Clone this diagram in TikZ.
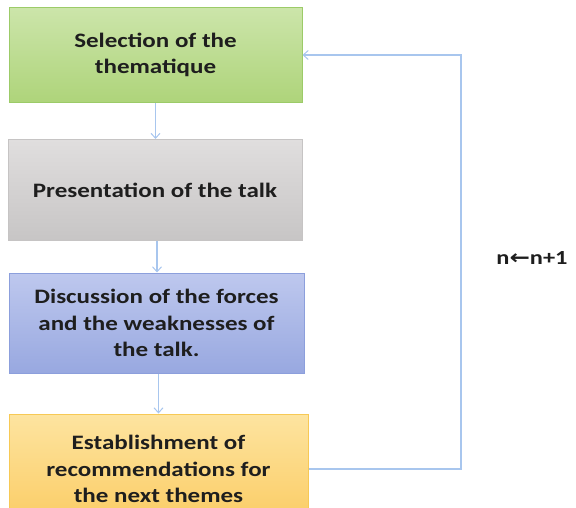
\documentclass[tikz,border=0pt]{standalone}
\usepackage{fontspec}
\setmainfont{Carlito}[FakeStretch=1.22]
\newfontfamily\arrowfont{DejaVu Sans}[FakeStretch=1.22]
\usetikzlibrary{arrows.meta}
\definecolor{txt}{HTML}{1E1E1E}
\definecolor{link}{HTML}{A8C6EE}
\definecolor{greenedge}{HTML}{9CCB68}
\definecolor{grayedge}{HTML}{C6C4C4}
\definecolor{blueedge}{HTML}{8C9FDC}
\definecolor{orangeedge}{HTML}{F7C955}
\tikzset{
  stepbox/.style={rectangle, draw=#1, line width=1pt, align=center,
    font=\fontsize{20.5}{26.5}\selectfont\bfseries, text=txt, inner sep=0pt},
  flow/.style={draw=link, line width=1.5pt, -{Straight Barb[length=5pt,width=9pt,line width=1pt]}},
  counter/.style={font=\fontsize{20}{24}\selectfont\bfseries, text=txt},
}
\begin{document}
\begin{tikzpicture}[x=1pt,y=-1pt]
  \useasboundingbox (0,0) rectangle (576,508);
  \clip (0,0) rectangle (576,508);
  \node[stepbox=greenedge, top color={rgb,255:red,204;green,229;blue,170}, bottom color={rgb,255:red,174;green,212;blue,122},
        minimum width=293pt, minimum height=95pt] (sel) at (155.5,55) {Selection of the\\thematique};
  \node[stepbox=grayedge, top color={rgb,255:red,224;green,222;blue,222}, bottom color={rgb,255:red,199;green,197;blue,197},
        minimum width=294pt, minimum height=101pt] (pres) at (155,190) {Presentation of the talk};
  \node[stepbox=blueedge, top color={rgb,255:red,190;green,200;blue,238}, bottom color={rgb,255:red,152;green,168;blue,224},
        minimum width=295pt, minimum height=100pt] (disc) at (156.5,323) {Discussion of the forces\\and the weaknesses of\\the talk.};
  \node[stepbox=orangeedge, top color={rgb,255:red,253;green,228;blue,160}, bottom color={rgb,255:red,251;green,204;blue,100},
        minimum width=299pt, minimum height=110pt] (est) at (158.5,469) {Establishment of\\recommendations for\\the next themes};
  \draw[flow] (sel.south) -- (sel.south |- pres.north);
  \draw[flow] (pres.south) ++(2,0) coordinate (p1) -- (p1 |- disc.north);
  \draw[flow] (disc.south) ++(2,0) coordinate (d1) -- (d1 |- est.north);
  \coordinate (turn) at (461,469);
  \draw[flow] (est.east) -- (turn) |- (sel.east);
  \node[counter] (inc) at (532,258) {n{\arrowfont ←}n+1};
\end{tikzpicture}
\end{document}
